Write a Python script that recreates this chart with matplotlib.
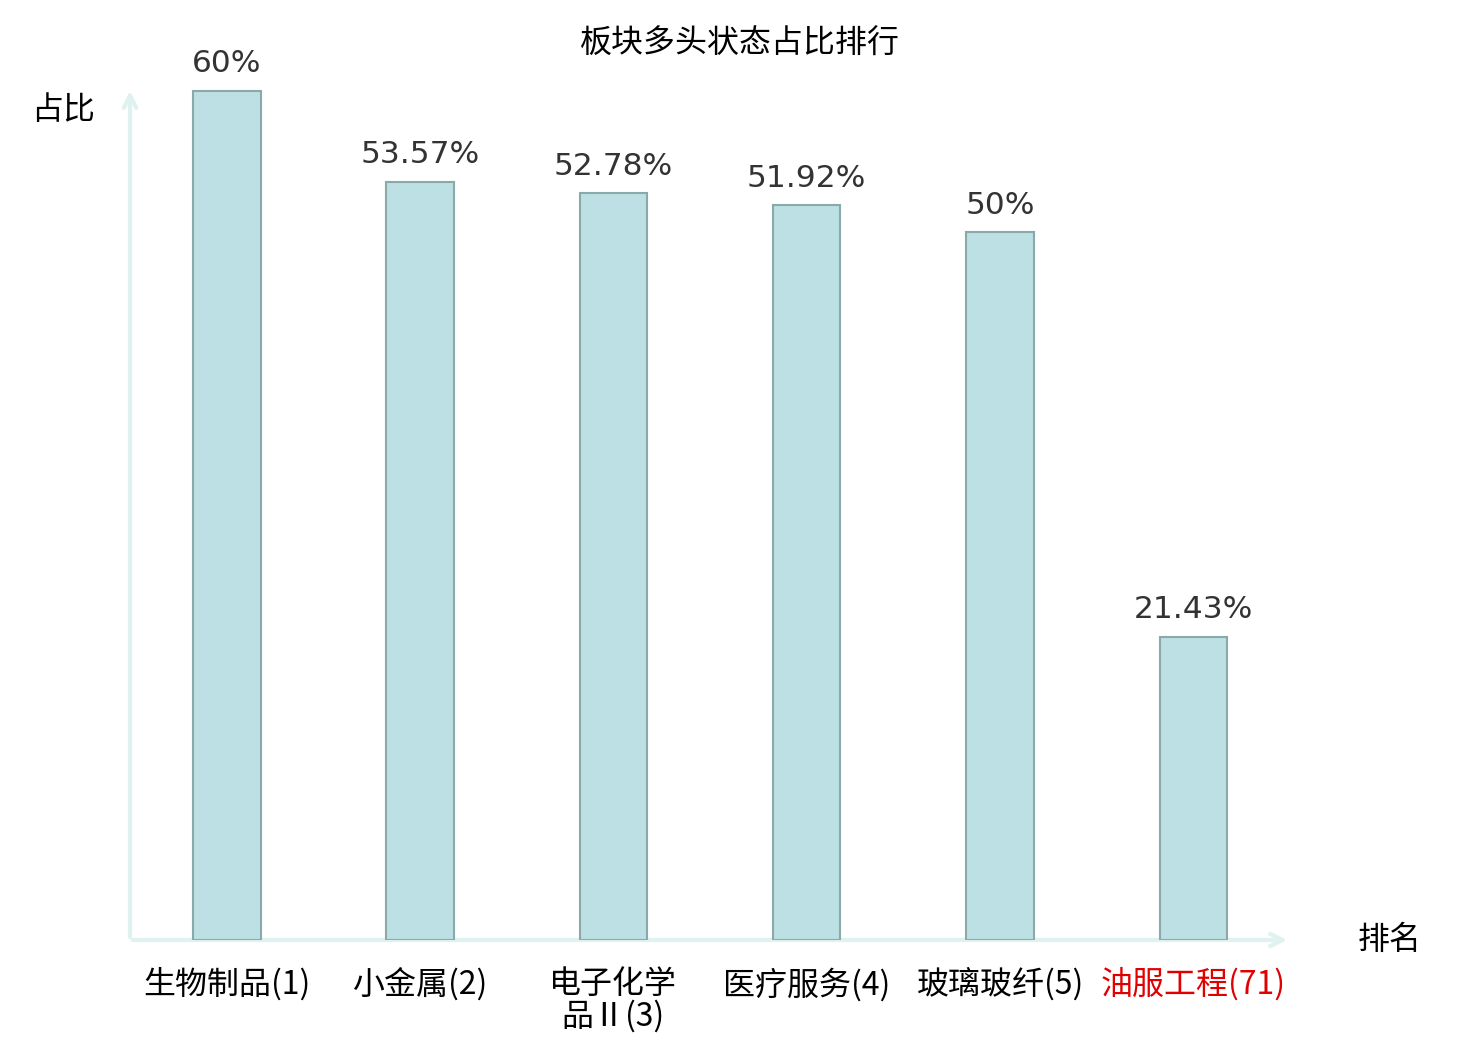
import matplotlib.pyplot as plt

plt.rcParams["font.family"] = ["Noto Sans CJK SC", "DejaVu Sans"]

categories = ["生物制品(1)", "小金属(2)", "电子化学\n品Ⅱ(3)", "医疗服务(4)", "玻璃玻纤(5)", "油服工程(71)"]
values = [60, 53.57, 52.78, 51.92, 50, 21.43]
value_labels = ["60%", "53.57%", "52.78%", "51.92%", "50%", "21.43%"]
highlight = [False, False, False, False, False, True]

AXIS_COLOR = "#dff2ef"
BAR_COLOR = "#bce0e3"
EDGE_COLOR = "#8aa9a9"

fig = plt.figure(figsize=(14.8, 10.4), dpi=100)
ax = fig.add_axes([130 / 1480, 100 / 1040, 1160 / 1480, 852 / 1040])

x = list(range(len(categories)))
ax.bar(x, values, width=0.35, color=BAR_COLOR, edgecolor=EDGE_COLOR, linewidth=1.5, zorder=3)

for xi, v, lab in zip(x, values, value_labels):
    ax.annotate(lab, (xi, v), xytext=(0, 9), textcoords="offset points",
                ha="center", va="bottom", fontsize=22.5, color="#333333",
                family="DejaVu Sans")

ax.set_xlim(-0.5, 5.5)
ax.set_ylim(0, 60.2)
for s in ax.spines.values():
    s.set_visible(False)
ax.set_yticks([])
ax.set_xticks(x)
ax.set_xticklabels(categories, fontsize=23, linespacing=1.0)
ax.tick_params(axis="x", length=0, pad=20)
for lbl, h in zip(ax.get_xticklabels(), highlight):
    lbl.set_color("#e00000" if h else "black")

# axis arrows
ax.annotate("", xy=(1.0, 0), xytext=(0, 0), xycoords="axes fraction",
            arrowprops=dict(arrowstyle="->,head_length=0.9,head_width=0.45",
                            color=AXIS_COLOR, lw=3), zorder=1)
ax.annotate("", xy=(0, 1.0), xytext=(0, 0), xycoords="axes fraction",
            arrowprops=dict(arrowstyle="->,head_length=0.9,head_width=0.45",
                            color=AXIS_COLOR, lw=3), zorder=1)

fig.text(63 / 1480, 1 - 110 / 1040, "占比", fontsize=23, ha="center", va="center")
fig.text(1390 / 1480, 1 - 940 / 1040, "排名", fontsize=23, ha="center", va="center")
fig.text(740 / 1480, 1 - 44 / 1040, "板块多头状态占比排行", fontsize=23, ha="center", va="center")

fig.savefig("out.png", dpi=100)
